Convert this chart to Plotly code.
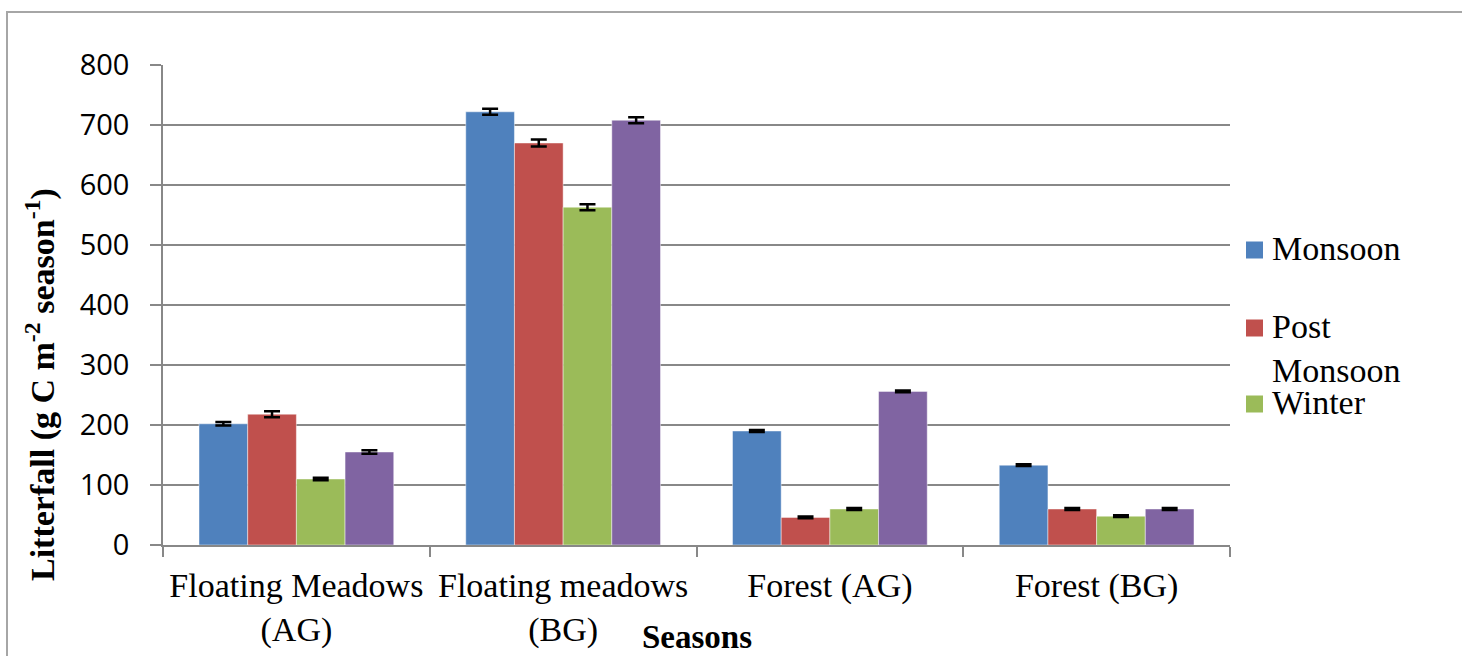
import plotly.graph_objects as go

categories = ["Floating Meadows<br>(AG)", "Floating meadows<br>(BG)", "Forest (AG)", "Forest (BG)"]
monsoon = [202, 722, 190, 133]
monsoon_err = [3, 5, 1.5, 1.5]
post_monsoon = [218, 670, 46, 60]
post_monsoon_err = [5, 6, 1.5, 1.5]
winter = [110, 563, 60, 48]
winter_err = [2, 5, 1.5, 1.5]
fourth = [155, 708, 256, 60]
fourth_err = [3, 5, 1.5, 1.5]

y_ticks = [0, 100, 200, 300, 400, 500, 600, 700, 800]

legend_labels = ["Monsoon", "Post<br>Monsoon", "Winter"]
legend_colors = ["#4F81BD", "#C0504D", "#9BBB59"]

series = [
    ("Monsoon", monsoon, monsoon_err, "#4F81BD"),
    ("Post Monsoon", post_monsoon, post_monsoon_err, "#C0504D"),
    ("Winter", winter, winter_err, "#9BBB59"),
    ("Summer", fourth, fourth_err, "#8064A2"),
]

SERIF = "Liberation Serif"

fig = go.Figure()
for name, vals, errs, color in series:
    fig.add_trace(go.Bar(
        x=categories, y=vals, name=name,
        marker=dict(color=color, line=dict(color="rgba(255,255,255,0.45)", width=1)),
        error_y=dict(type="data", array=errs, visible=True, color="black", thickness=2.5, width=8),
        showlegend=False,
    ))

W, H = 1462, 656
L, R, T, B = 163, 1230, 65, 545
pw, ph = R - L, B - T

def px(x):
    return (x - L) / pw

def py(y):
    return (B - y) / ph

fig.update_layout(
    width=W, height=H,
    margin=dict(l=L, r=W - R, t=T, b=H - B, autoexpand=False),
    paper_bgcolor="white", plot_bgcolor="white",
    barmode="group", bargap=0.27, bargroupgap=0,
    showlegend=False,
    font=dict(family=SERIF, color="black", size=33),
)

fig.update_yaxes(
    range=[0, 800], tickvals=y_ticks,
    showgrid=True, gridcolor="#888888", gridwidth=1.5,
    showline=True, linecolor="#888888", linewidth=1.5,
    ticks="outside", ticklen=11, tickcolor="#888888", tickwidth=1.5,
    tickfont=dict(family="Open Sans", size=29, color="black"),
    ticklabelstandoff=15,
    zeroline=False, automargin=False,
)
fig.update_xaxes(
    showline=True, linecolor="#888888", linewidth=1.5,
    ticks="outside", tickson="boundaries", ticklen=10, tickcolor="#888888", tickwidth=1.5,
    tickfont=dict(family=SERIF, size=34, color="black"),
    tickangle=0, ticklabelstandoff=9, automargin=False,
)

fig.add_annotation(
    x=px(40), y=py(385), xref="paper", yref="paper",
    text="<b>Litterfall (g C m<sup>-2</sup> season<sup>-1</sup>)</b>",
    textangle=-90, showarrow=False,
    font=dict(family=SERIF, size=34, color="black"),
    xanchor="center", yanchor="middle",
)
fig.add_annotation(
    x=px(697), y=py(637), xref="paper", yref="paper",
    text="<b>Seasons</b>", showarrow=False,
    font=dict(family=SERIF, size=33, color="black"),
    xanchor="center", yanchor="middle",
)

# legend (Excel-style, drawn as keys + labels)
key_centers = [250, 328, 404]
for label, color, yc in zip(legend_labels, legend_colors, key_centers):
    fig.add_shape(
        type="rect", xref="paper", yref="paper",
        x0=px(1246), x1=px(1263), y0=py(yc - 8.5), y1=py(yc + 8.5),
        line=dict(width=0), fillcolor=color,
    )
    fig.add_annotation(
        x=px(1270), y=py(yc - 22), xref="paper", yref="paper",
        text=label, showarrow=False, align="left",
        font=dict(family=SERIF, size=34, color="black"),
        xanchor="left", yanchor="top",
    )

fig.add_shape(
    type="rect", xref="paper", yref="paper",
    x0=px(7), x1=px(1500), y0=py(12), y1=py(700),
    line=dict(color="#A6A6A6", width=2), fillcolor="rgba(0,0,0,0)", layer="below",
)

fig.write_html(
    "out.html",
    config={"displayModeBar": False},
    post_script="document.body.style.margin='0';document.body.style.overflow='hidden';",
)
